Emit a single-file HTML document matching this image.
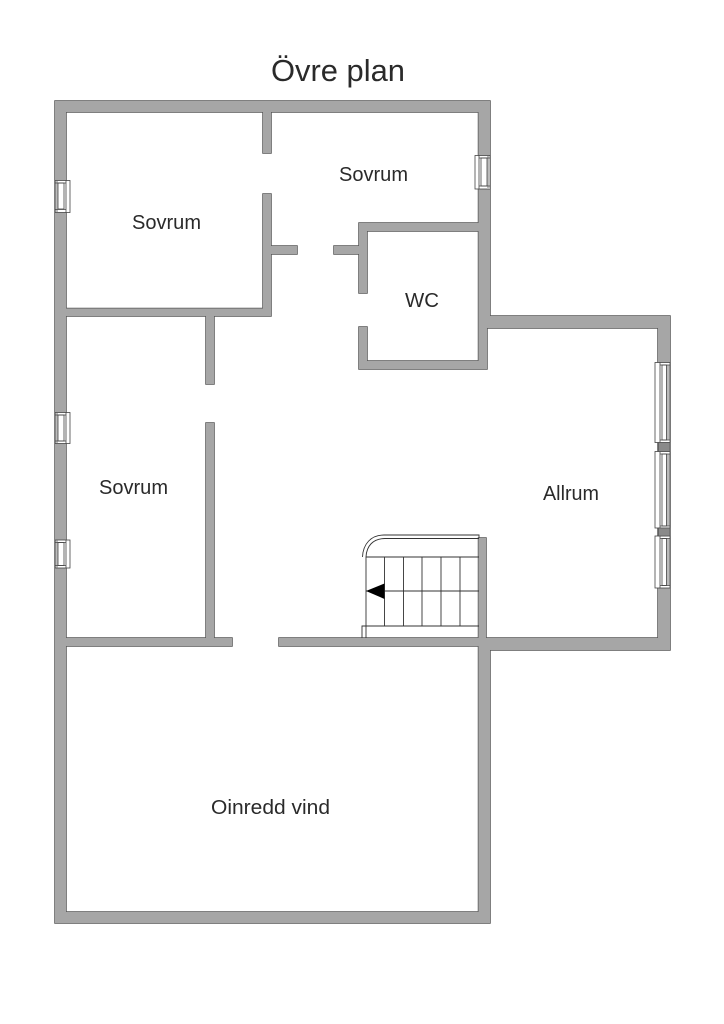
<!DOCTYPE html>
<html lang="sv">
<head>
<meta charset="utf-8">
<title>Övre plan</title>
<style>
html,body{margin:0;padding:0;background:#fff}
svg{display:block}
text{font-family:"Liberation Sans",sans-serif;fill:#2a2a2a}
</style>
</head>
<body>
<svg width="724" height="1024" viewBox="0 0 724 1024" xmlns="http://www.w3.org/2000/svg">
<defs>
<path id="w" d="M55 101H490V112H55Z M55 101H66V923H55Z M55 912H490V923H55Z M478.500 101H490V317H478.500Z M478.500 317H487V369H478.500Z M359 361H487V369H359Z M359 327H367V369H359Z M359 223H367V293H359Z M359 223H479V231H359Z M334 246H360V254H334Z M271 246H297V254H271Z M263 112H271V153H263Z M263 194H271V316H263Z M66 308.500H271V316H66Z M206 316H214V384H206Z M206 423H214V638H206Z M66 638H232V646H66Z M279 638H479V646H279Z M478.500 538H486V646H478.500Z M478.500 638H490V923H478.500Z M487 638H670V650H487Z M487 316H670V328H487Z M658 316H670V650H658Z"/>
</defs>
<rect width="724" height="1024" fill="#fff"/>

<!-- walls -->
<use href="#w" fill="#555" stroke="#555" stroke-width="1.5"/>
<use href="#w" fill="#a6a6a6"/>

<!-- left windows -->
<g stroke="#444" stroke-width="0.8">
<rect x="55.500" y="180.500" width="14.500" height="32" fill="#fff"/>
<rect x="55.500" y="181" width="2.500" height="31" fill="#bbb" stroke="none"/>
<rect x="58" y="183" width="6" height="26" fill="#fff"/>
<path d="M66 180.500V212.500M55 183H66M55 209.500H66" fill="none"/>
<rect x="55.500" y="412.500" width="14.500" height="31" fill="#fff"/>
<rect x="55.500" y="413" width="2.500" height="30" fill="#bbb" stroke="none"/>
<rect x="58" y="415" width="6" height="26" fill="#fff"/>
<path d="M66 412.500V443.500M55 415H66M55 441H66" fill="none"/>
<rect x="55.500" y="540" width="14.500" height="28" fill="#fff"/>
<rect x="55.500" y="540.500" width="2.500" height="27" fill="#bbb" stroke="none"/>
<rect x="58" y="542.500" width="6" height="23" fill="#fff"/>
<path d="M66 540V568M55 542.500H66M55 565.500H66" fill="none"/>
<!-- right sovrum window -->
<rect x="475" y="155.500" width="15" height="33.500" fill="#fff"/>
<rect x="487" y="156" width="3" height="33" fill="#bbb" stroke="none"/>
<rect x="481" y="158" width="6" height="28" fill="#fff"/>
<path d="M479 155.500V189M479 158H490M479 186H490" fill="none"/>
<!-- allrum windows -->
<rect x="655" y="362.500" width="15" height="80" fill="#fff"/>
<rect x="666.500" y="365" width="3" height="75" fill="#bbb" stroke="none"/>
<rect x="662" y="365" width="4.500" height="75" fill="#fff"/>
<path d="M660 362.500V442.500M660 365H670M660 440H670" fill="none"/>
<rect x="655" y="451.500" width="15" height="76.500" fill="#fff"/>
<rect x="666.500" y="454" width="3" height="72" fill="#bbb" stroke="none"/>
<rect x="662" y="454" width="4.500" height="72" fill="#fff"/>
<path d="M660 451.500V528M660 454H670M660 526H670" fill="none"/>
<rect x="655" y="536" width="15" height="52" fill="#fff"/>
<rect x="666.500" y="538.500" width="3" height="47" fill="#bbb" stroke="none"/>
<rect x="662" y="538.500" width="4.500" height="47" fill="#fff"/>
<path d="M660 536V588M660 538.500H670M660 585.500H670" fill="none"/>
</g>
<g fill="#8a8a8a" stroke="#555" stroke-width="0.8">
<rect x="658.500" y="442.500" width="11.500" height="9"/>
<rect x="658.500" y="528" width="11.500" height="8"/>
</g>

<!-- stairs -->
<g fill="none" stroke="#333" stroke-width="0.9">
<path d="M366 557H479M366 591H479M366 626H479"/>
<path d="M366 557V638M384.500 557V626M403.500 557V626M422 557V626M441 557V626M460 557V626"/>
<path d="M362 638V626H366"/>
<path d="M362.500 557C363 544 371 535 384 535H479V538"/>
<path d="M366 557C366.500 546 373 538.500 385 538.500H479"/>
</g>
<path d="M366 591L384.500 583.500V599Z" fill="#000"/>

<!-- labels -->
<text x="271" y="81" font-size="31" textLength="134" lengthAdjust="spacingAndGlyphs">Övre plan</text>
<text x="132" y="229" font-size="20" textLength="69" lengthAdjust="spacingAndGlyphs">Sovrum</text>
<text x="339" y="181" font-size="20" textLength="69" lengthAdjust="spacingAndGlyphs">Sovrum</text>
<text x="405" y="307" font-size="20" textLength="34" lengthAdjust="spacingAndGlyphs">WC</text>
<text x="99" y="494" font-size="20" textLength="69" lengthAdjust="spacingAndGlyphs">Sovrum</text>
<text x="543" y="500" font-size="20" textLength="56" lengthAdjust="spacingAndGlyphs">Allrum</text>
<text x="211" y="814" font-size="20" textLength="119" lengthAdjust="spacingAndGlyphs">Oinredd vind</text>
</svg>
</body>
</html>
